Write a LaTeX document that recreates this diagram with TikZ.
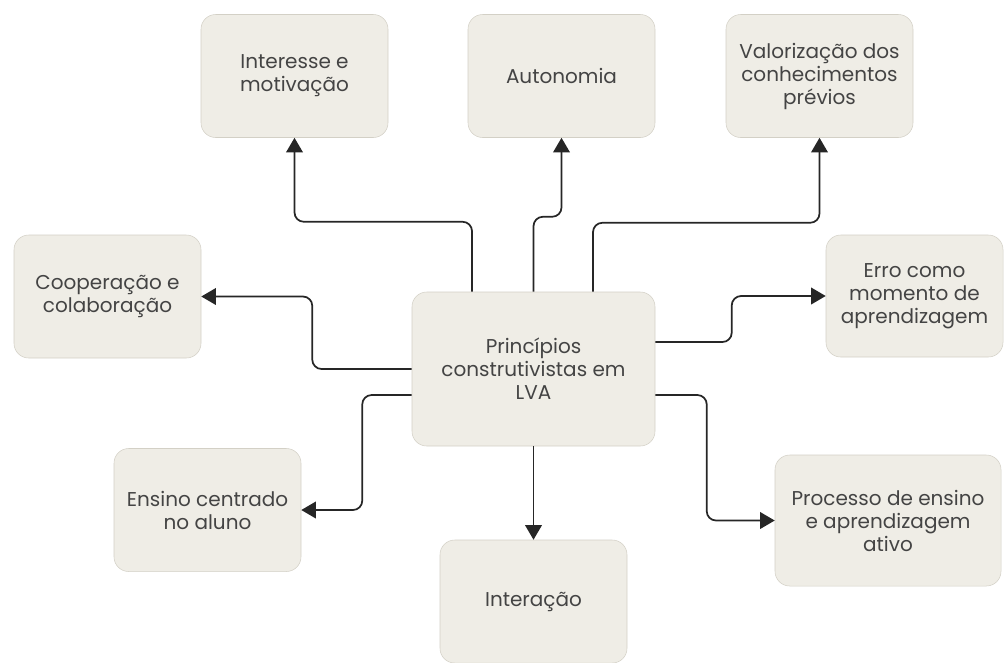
\documentclass[tikz,border=0pt]{standalone}
\usepackage{fontspec}
\setmainfont{Poppins}
\usetikzlibrary{arrows.meta,calc,positioning}
\definecolor{caixa}{HTML}{EFEDE6}
\definecolor{borda}{HTML}{D3D0C6}
\definecolor{texto}{HTML}{444444}

\begin{document}
\begin{tikzpicture}[x=0.75pt,y=-0.75pt]
      \useasboundingbox (0,0) rectangle (1005,662);
      \begin{scope}[every node/.style={draw=borda,fill=caixa,rounded corners=11pt,align=center,text=texto,
          font=\fontsize{15}{17.25}\selectfont,minimum width=140.25pt,minimum height=92.25pt,inner sep=2pt}]
        \node (centro) at (533.5,369) [minimum width=182.25pt,minimum height=115.5pt] {Princípios\\construtivistas em\\LVA};
        \node (inter) at (294.5,76) {Interesse e\\motivação};
        \node (auto) at (561.5,76) {Autonomia};
        \node (valor) at (819.5,76) {Valorização dos\\conhecimentos\\prévios};
        \node (coop) at (107.5,296.5) {Cooperação e\\colaboração};
        \node (erro) at (914.5,296) [minimum width=132.75pt,minimum height=91.5pt] {Erro como\\momento de\\aprendizagem};
        \node (ensino) at (207.5,510) {Ensino centrado\\no aluno};
        \node (proc) at (888,520.5) [minimum width=169.5pt,minimum height=98.25pt] {Processo de ensino\\e aprendizagem\\ativo};
        \node (interacao) at (533.5,601.5) {Interação};
      \end{scope}
      \begin{scope}
        [conector/.style={draw=black!85, line width=1.3pt, rounded corners=7pt,
        -{Triangle[length=11pt,width=12.5pt]}}]
        \draw[conector] ($(centro.north)+(-61.5,0)$) |- ($(inter.south)+(0,84)$) -- (inter.south);
        \draw[conector] (centro.north) |- ($(auto.south)+(0,79)$) -- (auto.south);
        \draw[conector] ($(centro.north)+(59.5,0)$) |- ($(valor.south)+(0,85)$) -- (valor.south);
        \draw[conector] (centro.west) -| ($(coop.east)+(111,0)$) -- (coop.east);
        \draw[conector] ($(centro.west)+(0,26)$) -| ($(ensino.east)+(61,0)$) -- (ensino.east);
        \draw[conector] (centro.south) -- (interacao.north);
        \draw[conector] ($(centro.east)+(0,-27)$) -| ($(erro.west)+(-94,0)$) -- (erro.west);
        \draw[conector] ($(centro.east)+(0,26)$) -| ($(proc.west)+(-68,0)$) -- (proc.west);
      \end{scope}
\end{tikzpicture}
\end{document}
